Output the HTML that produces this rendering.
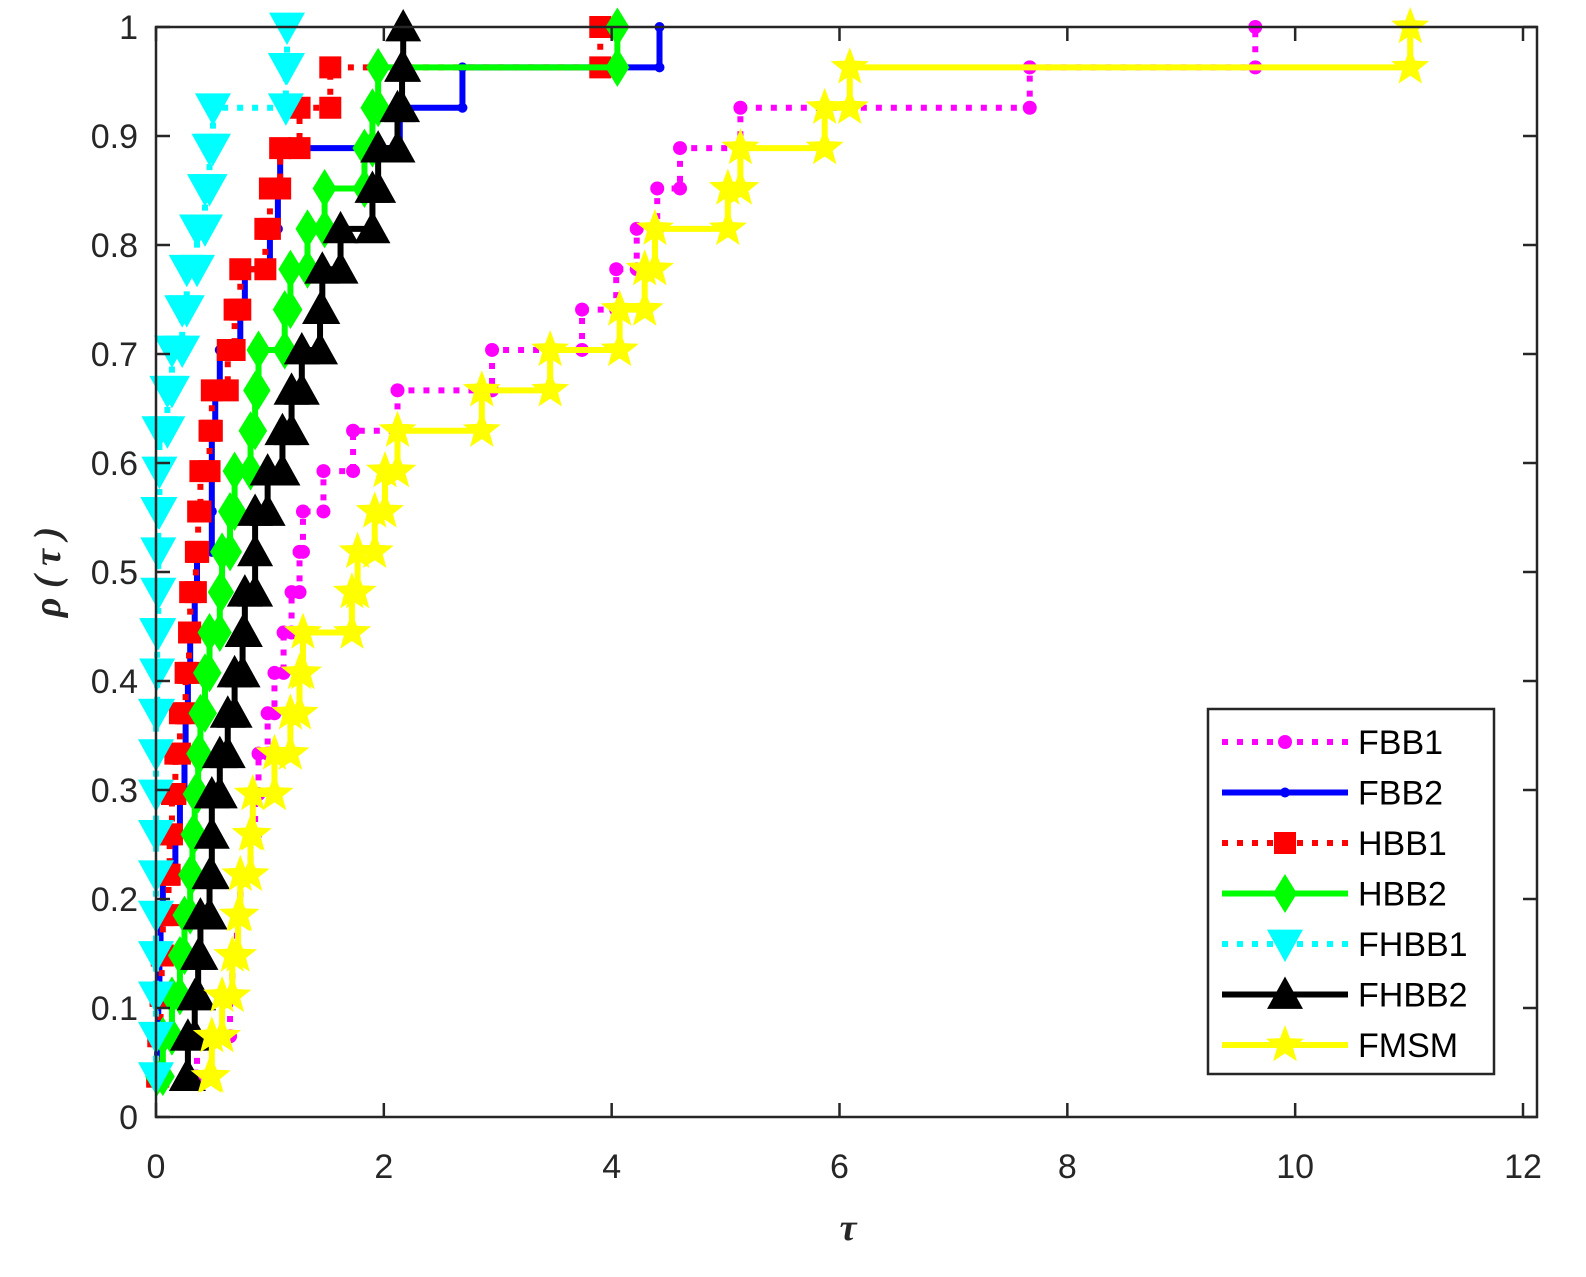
<!DOCTYPE html>
<html><head><meta charset="utf-8"><style>
body{margin:0;background:#fff}
svg{display:block;font-family:"Liberation Sans",sans-serif}
</style></head><body>
<svg id="chart" width="1586" height="1277" viewBox="0 0 1586 1277" xmlns="http://www.w3.org/2000/svg">
<rect x="0" y="0" width="1586" height="1277" fill="#fff"/>
<g id="plot"></g>
<g id="axes"></g>
<g id="legend"></g>
</svg>
<script>
const xTicks=[0,2,4,6,8,10,12];
const yTicks=[0,0.1,0.2,0.3,0.4,0.5,0.6,0.7,0.8,0.9,1];
const yTickLabels=["0","0.1","0.2","0.3","0.4","0.5","0.6","0.7","0.8","0.9","1"];
const seriesNames=["FBB1","FBB2","HBB1","HBB2","FHBB1","FHBB2","FMSM"];
const tauFBB1=[.34,.36,.65,.67,.71,.74,.83,.87,.90,.98,1.04,1.12,1.19,1.26,1.29,1.47,1.73,2.12,2.95,3.74,4.04,4.22,4.40,4.60,5.13,7.67,9.65];
const tauFBB2=[0,.01,.02,.03,.04,.06,.17,.21,.25,.26,.28,.30,.34,.36,.49,.49,.49,.52,.56,.74,.78,1.00,1.07,1.09,2.14,2.69,4.42];
const tauHBB1=[.01,.02,.04,.05,.06,.11,.12,.14,.17,.21,.26,.29,.30,.35,.37,.39,.47,.49,.63,.69,.74,.96,1.00,1.09,1.26,1.53,3.90];
const tauHBB2=[.01,.06,.14,.21,.25,.30,.32,.34,.37,.39,.43,.47,.56,.58,.65,.69,.83,.87,.90,1.13,1.18,1.33,1.48,1.83,1.90,1.95,4.05];
const tauFHBB1=[0,0,0,0,0,0,0,0,0,0,.01,.01,.02,.02,.02,.03,.03,.10,.14,.23,.27,.36,.43,.47,.50,1.14,1.15];
const tauFHBB2=[.27,.28,.34,.37,.39,.47,.49,.49,.56,.63,.69,.76,.78,.87,.87,.98,1.11,1.19,1.28,1.44,1.46,1.62,1.90,1.95,2.12,2.16,2.17];
const tauFMSM=[.47,.49,.58,.67,.72,.74,.83,.85,1.04,1.18,1.26,1.29,1.72,1.77,1.92,2.01,2.12,2.86,3.46,4.07,4.29,4.38,5.02,5.13,5.87,6.09,11.01];

const NS="http://www.w3.org/2000/svg";
const X0=156,X1=1523,Y0=1117,Y1=27,BX=1537;
const sx=v=>X0+v*(X1-X0)/12;
const sy=v=>Y0-v*(Y0-Y1);
function mk(tag,attrs,parent){const e=document.createElementNS(NS,tag);for(const k in attrs)e.setAttribute(k,attrs[k]);parent.appendChild(e);return e;}

const styles=[
 {data:tauFBB1,color:"#ff00ff",dash:"6 9",marker:"circle",size:7},
 {data:tauFBB2,color:"#0000ff",dash:"",marker:"circle",size:5},
 {data:tauHBB1,color:"#ff0000",dash:"6 9",marker:"square",size:11},
 {data:tauHBB2,color:"#00ff00",dash:"",marker:"diamond",size:15},
 {data:tauFHBB1,color:"#00ffff",dash:"6 9",marker:"down",size:18},
 {data:tauFHBB2,color:"#000000",dash:"",marker:"up",size:18},
 {data:tauFMSM,color:"#ffff00",dash:"",marker:"star",size:20}
];
function markerPath(type,x,y,s){
 if(type==="square")return `M${x-s},${y-s}h${2*s}v${2*s}h${-2*s}z`;
 if(type==="diamond")return `M${x},${y-s*1.3}L${x+s*0.8},${y}L${x},${y+s*1.3}L${x-s*0.8},${y}z`;
 if(type==="down")return `M${x-s},${y-s*0.8}L${x+s},${y-s*0.8}L${x},${y+s}z`;
 if(type==="up")return `M${x-s},${y+s*0.8}L${x+s},${y+s*0.8}L${x},${y-s}z`;
 if(type==="star"){let p="";for(let i=0;i<10;i++){const r=i%2?s*0.42:s;const a=-Math.PI/2+i*Math.PI/5;p+=(i?"L":"M")+(x+r*Math.cos(a)).toFixed(1)+","+(y+r*Math.sin(a)).toFixed(1);}return p+"z";}
 return "";
}
function drawMarker(g,st,x,y,name){
 let m;
 if(st.marker==="circle")m=mk("circle",{cx:x,cy:y,r:st.size,fill:st.color},g);
 else m=mk("path",{d:markerPath(st.marker,x,y,st.size),fill:st.color},g);
 
 
}
const plot=document.getElementById("plot");
styles.forEach((st,si)=>{
 const g=mk("g",{},plot);
 
 
 const n=st.data.length;
 let d="";
 for(let k=0;k<n;k++){
  const y=sy((k+1)/n);const x=sx(st.data[k]);
  d+=(k?"L":"M")+x+","+(k?sy(k/n):y)+(k?"L"+x+","+y:"");
  if(k<n-1)d+="L"+sx(st.data[k+1])+","+y;
 }
 const line=mk("path",{d:d,fill:"none",stroke:st.color,"stroke-width":6,"stroke-dasharray":st.dash},g);
 
 
 for(let k=0;k<n;k++){
  const y=sy((k+1)/n);
  drawMarker(g,st,sx(st.data[k]),y,'point-'+seriesNames[si].toLowerCase());
  if(k<n-1&&st.data[k+1]!==st.data[k])drawMarker(g,st,sx(st.data[k+1]),y,'point-'+seriesNames[si].toLowerCase());
 }
});
const ax=document.getElementById("axes");
const box=mk("rect",{x:X0,y:Y1,width:BX-X0,height:Y0-Y1,fill:"none",stroke:"#262626","stroke-width":2.5},ax);


xTicks.forEach(v=>{
 const x=sx(v);
 mk("line",{x1:x,y1:Y0,x2:x,y2:Y0-14,stroke:"#262626","stroke-width":2.5},ax);
 mk("line",{x1:x,y1:Y1,x2:x,y2:Y1+14,stroke:"#262626","stroke-width":2.5},ax);
 const t=mk("text",{x:x,y:1178,"font-size":34,"text-anchor":"middle",fill:"#262626"},ax);
 t.textContent=String(v);
 
 
});
yTicks.forEach((v,i)=>{
 const y=sy(v);
 mk("line",{x1:X0,y1:y,x2:X0+14,y2:y,stroke:"#262626","stroke-width":2.5},ax);
 mk("line",{x1:BX,y1:y,x2:BX-14,y2:y,stroke:"#262626","stroke-width":2.5},ax);
 const t=mk("text",{x:138,y:y+12,"font-size":34,"text-anchor":"end",fill:"#262626"},ax);
 t.textContent=yTickLabels[i];
 
 
});
const xl=mk("text",{x:848,y:1240,"font-size":38,"font-weight":"bold","font-style":"italic","text-anchor":"middle",fill:"#262626","font-family":"Liberation Serif, serif"},ax);
xl.textContent="τ";


const yl=mk("text",{x:0,y:0,"font-size":38,"font-weight":"bold","font-style":"italic","text-anchor":"middle",fill:"#262626","font-family":"Liberation Serif, serif",transform:"translate(60,572) rotate(-90)"},ax);
yl.textContent="ρ ( τ )";


const lg=document.getElementById("legend");
const lb=mk("rect",{x:1208,y:709,width:286,height:365,fill:"#fff",stroke:"#262626","stroke-width":2.5},lg);


styles.forEach((st,i)=>{
 const y=742+i*50.5;
 const g=mk("g",{},lg);
 
 
 mk("line",{x1:1222,y1:y,x2:1348,y2:y,stroke:st.color,"stroke-width":6,"stroke-dasharray":st.dash},g);
 drawMarker(g,st,1285,y,'legend-marker');
 const t=mk("text",{x:1358,y:y+12,"font-size":34,fill:"#000"},g);
 t.textContent=seriesNames[i];
});
</script>
</body></html>
